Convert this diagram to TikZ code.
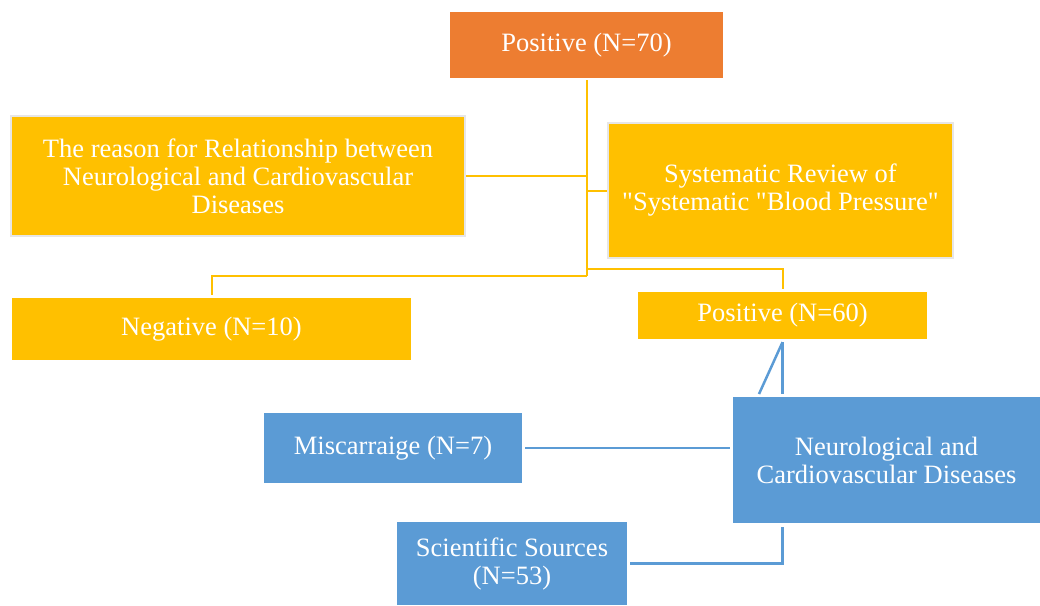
\documentclass[tikz,border=0pt]{standalone}
\usepackage{fontspec}
\setmainfont{Liberation Serif}[Ligatures=TeXOff]
\usetikzlibrary{calc}
\definecolor{boxorange}{HTML}{ED7D31}
\definecolor{boxyellow}{HTML}{FFC000}
\definecolor{boxblue}{HTML}{5B9BD5}
\definecolor{boxedge}{HTML}{E7E6E6}
\begin{document}
\begin{tikzpicture}[x=1pt,y=-1pt,
		every node/.style={rectangle,inner sep=0pt,align=center,text=white,
			font=\fontsize{26.5}{28}\selectfont},
		orangebox/.style={fill=boxorange},
		yellowbox/.style={fill=boxyellow},
		bluebox/.style={fill=boxblue},
		framed/.style={draw=boxedge,line width=2pt},
		yline/.style={draw=boxyellow,line width=2pt},
		bline/.style={draw=boxblue,line width=2.5pt}]
		
		\useasboundingbox (0,0) rectangle (1040,605);
		
		\node[orangebox,minimum width=273pt,minimum height=66pt] (pos70) at (586.5,45) {Positive (N=70)};
		\node[yellowbox,framed,minimum width=454pt,minimum height=120pt] (reason) at (238,176)
			{The reason for Relationship between\\Neurological and Cardiovascular\\Diseases};
		\node[yellowbox,framed,minimum width=345pt,minimum height=135pt] (review) at (780.5,190.5)
			{Systematic Review of\\"Systematic "Blood Pressure"};
		\node[yellowbox,minimum width=399pt,minimum height=62pt] (neg) at (211.5,329) {Negative (N=10)};
		\node[yellowbox,minimum width=289pt,minimum height=47pt] (pos60) at (782.5,315.5) {Positive (N=60)};
		\node[bluebox,minimum width=258pt,minimum height=70pt] (misc) at (393,448) {Miscarraige (N=7)};
		\node[bluebox,minimum width=307pt,minimum height=126pt] (neuro) at (886.5,460)
			{Neurological and\\Cardiovascular Diseases};
		\node[bluebox,minimum width=230pt,minimum height=83pt] (sci) at (512,563.5)
			{Scientific Sources\\(N=53)};
		
		% yellow tree
		\coordinate (trunk) at (586.5,276);
		\coordinate (branch) at (586.5,269);
		\draw[yline,shorten <=2pt] (pos70.south) -- (trunk);
		\draw[yline] (reason.east) -- (reason.east -| trunk);
		\draw[yline] (review.west) -- (review.west -| trunk);
		\draw[yline,shorten >=3pt] (trunk) -| (neg.north);
		\draw[yline,shorten >=3pt] (branch) -| (pos60.north);
		
		% blue links
		\coordinate (split) at ($(pos60.south)+(0,3)$);
		\coordinate (slant) at (759,394);
		\draw[bline,shorten >=3pt] (split) -- (split |- neuro.north);
		\draw[bline] (split) -- (slant);
		\draw[bline,shorten <=3pt,shorten >=3pt] (misc.east) -- (misc.east -| neuro.west);
		\draw[bline,shorten <=3pt,shorten >=4pt] (sci.east) -| (split |- neuro.south);
		\end{tikzpicture}
\end{document}
